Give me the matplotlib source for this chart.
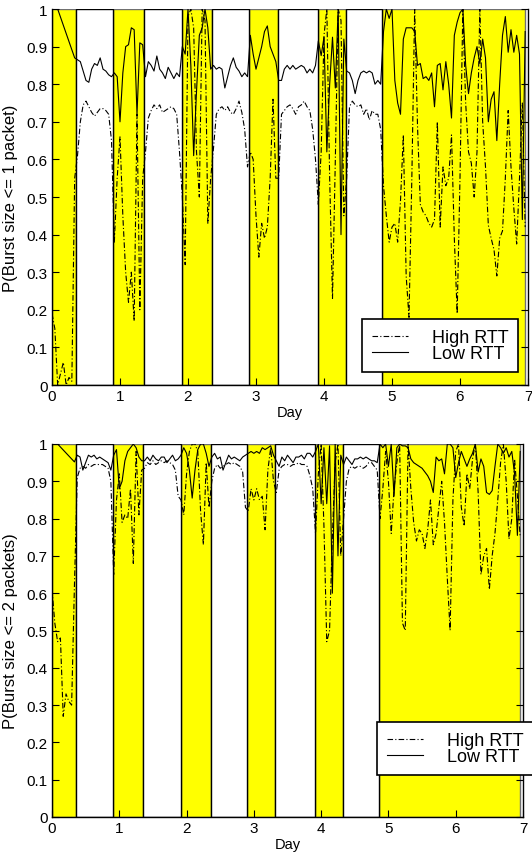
"""
Burst size CDF over a week: High RTT vs Low RTT, day/night shading
"""
import numpy as np
import matplotlib
matplotlib.use('Agg')
import matplotlib.pyplot as plt

plt.rcParams['font.family'] = ['Liberation Sans', 'DejaVu Sans']

YELLOW = '#ffff00'
EDGE_GRAY = '#707070'

# white (unshaded) periods, in days
white_start = [0.36, 1.35, 2.36, 3.32, 4.33]
white_end = [0.90, 1.91, 2.90, 3.91, 4.86]
shade_end = 6.95

# sample hours
low_hours = [2] + list(range(8, 168))
high_hours = list(range(0, 168))

# top panel: P(burst size <= 1 packet)
top_low = [1.0,
    0.87,
    0.865, 0.86, 0.835, 0.81, 0.805, 0.84, 0.855, 0.85, 0.87, 0.84, 0.835, 0.825, 0.82,
    0.83, 0.82, 0.70, 0.83, 0.90, 0.905, 0.95, 0.945, 0.72, 0.91, 0.905,
    0.82, 0.86, 0.85, 0.835, 0.875, 0.84, 0.83, 0.815, 0.845, 0.83, 0.815, 0.83, 0.82,
    0.90, 0.88, 1.0, 0.85, 0.61, 0.78, 0.93, 0.95, 1.0, 0.95, 0.84,
    0.85, 0.84, 0.845, 0.84, 0.79, 0.82, 0.85, 0.87, 0.845, 0.835, 0.82, 0.83, 0.82,
    0.93, 0.88, 0.84, 0.87, 0.90, 0.94, 0.955, 0.90, 0.88, 0.86,
    0.81, 0.81, 0.84, 0.85, 0.84, 0.85, 0.84, 0.845, 0.85, 0.845, 0.83, 0.84, 0.83, 0.85,
    0.915, 0.876, 0.925, 0.62, 0.80, 0.925, 0.79, 1.0, 0.40, 0.92,
    0.835, 0.83, 0.81, 0.775, 0.81, 0.83, 0.835, 0.83, 0.835, 0.83, 0.80, 0.81, 0.80,
    0.94, 1.0, 0.975, 1.0, 0.81, 0.75, 0.72, 0.92, 0.95, 0.95,
    0.95, 0.94, 0.85, 0.855, 0.815, 0.82, 0.81, 0.83, 0.74, 0.85,
    0.855, 0.785, 0.86, 0.80, 0.71, 0.93, 0.965, 0.99, 1.0, 0.85,
    0.775, 0.83, 0.87, 0.90, 0.855, 0.92, 0.87, 0.70, 0.76, 0.78,
    0.65, 0.80, 0.93, 0.98, 0.885, 0.945, 0.885, 0.93, 0.88, 0.44,
    0.94]
top_high = [0.19, 0.15, 0.0, 0.03, 0.06, 0.0, 0.02, 0.01, 0.55,
    0.61, 0.70, 0.745, 0.755, 0.74, 0.725, 0.715, 0.725, 0.735, 0.735, 0.73, 0.72, 0.65,
    0.38, 0.55, 0.66, 0.45, 0.30, 0.22, 0.30, 0.17, 0.72, 0.20, 0.55,
    0.62, 0.71, 0.73, 0.745, 0.735, 0.745, 0.725, 0.73, 0.735, 0.74, 0.735, 0.72, 0.62,
    0.50, 0.32, 0.98, 1.0, 0.95, 0.62, 0.50, 1.0, 0.97, 0.43, 0.55,
    0.63, 0.72, 0.735, 0.74, 0.73, 0.74, 0.725, 0.72, 0.735, 0.755, 0.725, 0.68, 0.58,
    0.62, 0.60, 0.45, 0.34, 0.43, 0.39, 0.42, 0.55, 0.76, 0.55,
    0.55, 0.72, 0.73, 0.74, 0.745, 0.735, 0.72, 0.74, 0.745, 0.755, 0.74, 0.73, 0.68, 0.60,
    0.48, 0.62, 0.93, 1.0, 0.55, 0.23, 0.60, 1.0, 0.97, 0.45,
    0.55, 0.74, 0.755, 0.745, 0.74, 0.745, 0.72, 0.735, 0.705, 0.73, 0.72, 0.72, 0.68,
    0.53, 0.45, 0.38, 0.42, 0.43, 0.38, 0.49, 0.665, 0.29, 0.18,
    0.55, 1.0, 0.69, 0.48, 0.46, 0.45, 0.43, 0.42, 0.44, 0.70,
    0.42, 0.58, 0.53, 0.55, 0.665, 0.39, 0.19, 0.55, 1.0, 0.75,
    0.62, 0.59, 0.50, 0.62, 1.0, 0.70, 0.58, 0.425, 0.39, 0.36,
    0.29, 0.39, 0.41, 0.55, 0.73, 0.58, 0.47, 0.375, 0.55, 0.75,
    0.42]

# bottom panel: P(burst size <= 2 packets)
bot_low = [1.0,
    0.952,
    0.97, 0.965, 0.93, 0.95, 0.97, 0.965, 0.97, 0.96, 0.965, 0.96, 0.955, 0.95, 0.93,
    0.97, 0.985, 0.88, 0.90, 0.955, 0.98, 0.99, 1.0, 0.99, 0.965, 0.955,
    0.955, 0.965, 0.955, 0.97, 0.96, 0.955, 0.965, 0.965, 0.95, 0.96, 0.97, 0.955, 0.96,
    0.97, 0.99, 0.975, 0.93, 0.855, 0.93, 0.985, 1.0, 1.0, 0.975, 0.94,
    0.965, 0.975, 0.96, 0.965, 0.93, 0.95, 0.97, 0.96, 0.965, 0.96, 0.955, 0.965, 0.97,
    0.975, 0.98, 0.975, 0.98, 0.975, 0.99, 0.985, 0.99, 0.995, 0.97,
    0.955, 0.94, 0.965, 0.955, 0.97, 0.96, 0.95, 0.965, 0.965, 0.97, 0.96, 0.975, 0.975, 0.965,
    0.98, 1.0, 0.84, 0.99, 0.84, 0.995, 0.60, 1.0, 0.70, 0.97,
    0.945, 0.965, 0.955, 0.945, 0.96, 0.96, 0.965, 0.96, 0.965, 0.96, 0.955, 0.955, 0.95,
    1.0, 0.99, 1.0, 0.94, 1.0, 0.86, 0.99, 1.0, 0.995, 0.995,
    0.99, 0.96, 0.95, 0.945, 0.94, 0.935, 0.925, 0.915, 0.90, 0.87,
    0.965, 0.955, 0.96, 0.92, 1.0, 1.0, 0.99, 0.91, 0.95, 0.98,
    0.96, 0.94, 0.96, 0.975, 1.0, 0.925, 0.96, 0.94, 0.87, 0.865,
    0.875, 0.94, 1.0, 0.99, 0.975, 0.99, 0.965, 0.98, 0.92, 0.755,
    0.98]
bot_high = [0.61, 0.52, 0.47, 0.48, 0.27, 0.33, 0.31, 0.30, 0.62,
    0.91, 0.935, 0.94, 0.935, 0.945, 0.94, 0.945, 0.945, 0.945, 0.945, 0.94, 0.935, 0.90,
    0.65, 0.85, 0.92, 0.79, 0.81, 0.80, 0.88, 0.68, 0.98, 0.81, 0.93,
    0.935, 0.95, 0.945, 0.955, 0.945, 0.95, 0.955, 0.95, 0.955, 0.95, 0.945, 0.93, 0.86,
    0.85, 0.81, 0.92, 0.98, 1.0, 1.0, 0.98, 0.82, 0.73, 0.95, 0.83,
    0.90, 0.935, 0.945, 0.935, 0.94, 0.945, 0.95, 0.945, 0.95, 0.945, 0.94, 0.925, 0.83,
    0.82, 0.88, 0.85, 0.88, 0.85, 0.86, 0.77, 0.93, 0.99, 0.90,
    0.87, 0.93, 0.94, 0.945, 0.945, 0.94, 0.945, 0.945, 0.95, 0.945, 0.945, 0.94, 0.915, 0.88,
    0.76, 0.92, 1.0, 0.78, 0.47, 0.50, 0.75, 0.95, 1.0, 0.70,
    0.80, 0.90, 0.935, 0.94, 0.935, 0.94, 0.94, 0.935, 0.94, 0.95, 0.95, 0.94, 0.93,
    0.80, 0.88, 0.98, 0.90, 0.76, 0.88, 0.95, 1.0, 0.52, 0.50,
    1.0, 0.88, 0.79, 0.74, 0.77, 0.76, 0.72, 0.77, 0.85, 0.73,
    0.76, 0.83, 0.90, 0.79, 0.64, 0.50, 0.85, 0.98, 1.0, 0.83,
    0.78, 0.92, 0.88, 0.96, 1.0, 0.87, 0.65, 0.70, 0.72, 0.61,
    0.70, 0.76, 0.85, 0.95, 1.0, 0.90, 0.745, 0.80, 0.96, 0.86,
    0.75]

ylabels = ['P(Burst size <= 1 packet)', 'P(Burst size <= 2 packets)']
series_labels = ['High RTT', 'Low RTT']

W, H = 532, 854
fig = plt.figure(figsize=(W / 100, H / 100), dpi=100, facecolor='white')

# axes boxes in pixels: left, top, right, bottom
boxes = [(52, 10, 528, 386), (52, 445, 523, 818)]
legend_pos = [(362, 320), (377, 723)]
panels = [(top_high, top_low), (bot_high, bot_low)]

for i, ((l, t, r, b), (high, low)) in enumerate(zip(boxes, panels)):
    ax = fig.add_axes([l / W, 1 - b / H, (r - l) / W, (b - t) / H])
    ax.set_xlim(0, 7)
    ax.set_ylim(0, 1)

    # shaded (yellow) periods between the white ones
    y_starts = [0.0] + white_end
    y_ends = white_start + [shade_end]
    for s, e in zip(y_starts, y_ends):
        ax.add_patch(plt.Rectangle((s, 0), e - s, 1, facecolor=YELLOW,
                                   edgecolor=EDGE_GRAY, linewidth=1, zorder=0))
    for s, e in zip(white_start, white_end):
        ax.add_patch(plt.Rectangle((s, 0), e - s, 1, facecolor='white',
                                   edgecolor='black', linewidth=1, zorder=0.5))

    th = np.array(high_hours) / 24.0
    tl = np.array(low_hours) / 24.0
    ax.plot(th, high, color='black', linestyle=(0, (5, 2, 1, 2)), linewidth=0.8,
            label=series_labels[0], zorder=2)
    ax.plot(tl, low, color='black', linestyle='-', linewidth=0.8,
            label=series_labels[1], zorder=2)

    ax.set_xticks(range(8))
    ax.set_yticks(np.arange(0, 1.01, 0.1))
    ax.set_yticklabels(['0'] + ['%.1f' % v for v in np.arange(0.1, 0.95, 0.1)] + ['1'])
    ax.tick_params(direction='in', length=5, labelsize=11, right=True, top=False,
                   pad=3)
    ax.spines['top'].set_visible(False)
    for side in ['left', 'bottom', 'right']:
        ax.spines[side].set_linewidth(1)
    ax.set_xlabel('Day', fontsize=10.5, labelpad=1)
    ax.set_ylabel(ylabels[i], fontsize=12)
    ax.yaxis.set_label_coords(-0.072, 0.5)

    lx, ly = legend_pos[i]
    leg = ax.legend(loc='upper left', bbox_to_anchor=(lx / W, 1 - ly / H),
                    bbox_transform=fig.transFigure, borderaxespad=0,
                    fontsize=13, frameon=True, fancybox=False, framealpha=1,
                    edgecolor='black', handlelength=2.0, handletextpad=1.3,
                    labelspacing=-0.05, borderpad=0.55)
    leg.get_frame().set_linewidth(1.2)
    leg.set_zorder(5)

fig.savefig('out.png', dpi=100, facecolor='white')
